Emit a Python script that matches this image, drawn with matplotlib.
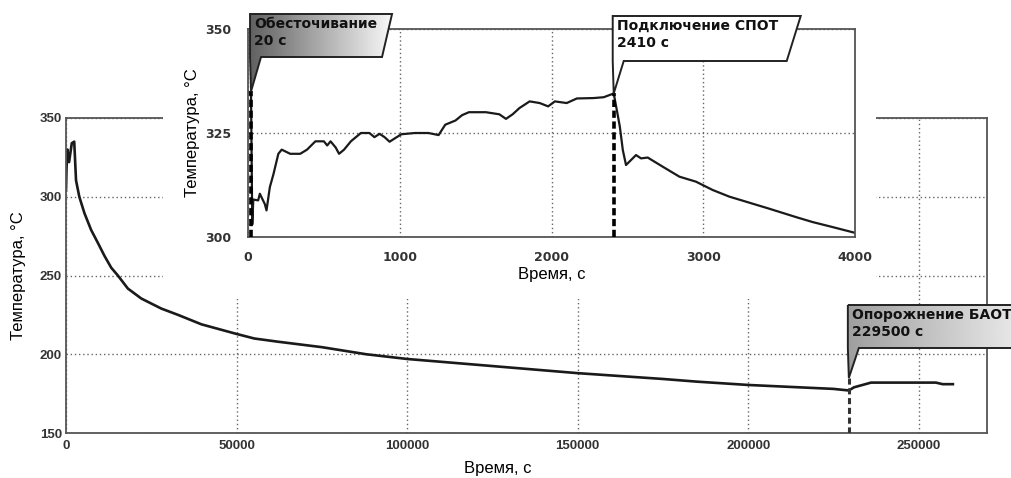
# -*- coding: utf-8 -*-
'''
Температура после обесточивания: общий вид и начальный участок
'''
import numpy as np
import matplotlib
matplotlib.use('Agg')
import matplotlib.pyplot as plt
from matplotlib.patches import Polygon, Rectangle

plt.rcParams['font.family'] = ['Liberation Sans', 'DejaVu Sans']

# ---- данные: весь процесс ----
main_t = [0, 150, 400, 900, 1700, 2410, 2940, 3900, 5400, 7350, 9300, 11270,
          13240, 15200, 18140, 22060, 27940, 32840, 39700, 50000, 55200, 62000,
          75000, 88000, 100000, 125000, 150000, 175000, 185000, 200000, 215000,
          225000, 229500, 231000, 236000, 245000, 255000, 257000, 260000]
main_T = [304, 318, 330, 322, 334, 335, 310.4, 300, 289.6, 279, 270.9, 262.5,
          255, 250, 241.7, 235.4, 229, 225, 219, 212.9, 210, 208,
          204.5, 200, 197, 192.5, 188, 184.3, 182.6, 180.5, 179,
          178, 177, 179, 182, 182, 182, 181, 181]

# ---- данные: первые 4000 с ----
inset_t = [0, 20, 28, 35, 67, 78, 111, 122, 144, 167, 200, 222, 278, 344, 389,
           444, 500, 522, 544, 578, 600, 633, 678, 744, 800, 833, 867, 900, 933,
           967, 1011, 1100, 1189, 1256, 1300, 1367, 1411, 1456, 1567, 1656, 1700,
           1744, 1789, 1856, 1922, 1978, 2022, 2100, 2167, 2278, 2344, 2410, 2430,
           2450, 2470, 2491, 2524, 2557, 2590, 2634, 2733, 2843, 2952, 3062, 3172,
           3281, 3435, 3610, 3720, 3851, 4000]
inset_T = [335, 334, 303, 309, 308.8, 310.4, 307.9, 306.4, 312, 315, 320, 321, 320,
           320, 321, 323, 323, 322, 323, 321.5, 320, 321, 323, 325, 325, 324, 324.8,
           324, 322.9, 323.7, 324.7, 325, 325, 324.5, 327, 328, 329.3, 330, 330,
           329.5, 328.4, 329.5, 331, 332.6, 332.2, 331.4, 332.6, 332.2, 333.3, 333.4,
           333.6, 334.5, 330.6, 326.6, 320.9, 317.3, 318.5, 319.7, 318.9, 319.1, 316.9,
           314.5, 313.3, 311.3, 309.7, 308.5, 306.8, 304.8, 303.6, 302.4, 301]

main_xticks = [0, 50000, 100000, 150000, 200000, 250000]
main_yticks = [150, 200, 250, 300, 350]
inset_xticks = [0, 1000, 2000, 3000, 4000]
inset_yticks = [300, 325, 350]

# события: время, температура у вершины выноски, подпись
ev_texts = ['Обесточивание\n20 с', 'Подключение СПОТ\n2410 с', 'Опорожнение БАОТ\n229500 с']
ev_t = [20, 2410, 229500]
ev_T = [335, 334.5, 185]

W, H = 1011, 478
fig = plt.figure(figsize=(W / 100, H / 100), dpi=100)
fig.patch.set_facecolor('white')

grid_kw = dict(color='#666666', linestyle=(0, (1, 2)), linewidth=1.0)
spine_col = '#555555'


def style_axes(ax):
    for s in ax.spines.values():
        s.set_color(spine_col)
        s.set_linewidth(1.3)
    ax.tick_params(length=0)
    ax.grid(True, **grid_kw)
    ax.set_axisbelow(True)


# основной график
ax = fig.add_axes([66 / W, 1 - 433 / H, (987 - 66) / W, (433 - 118) / H], zorder=0)
ax.plot(main_t, main_T, color='#1a1a1a', linewidth=1.9)
ax.set_xlim(0, 270000)
ax.set_ylim(150, 350)
ax.set_xticks(main_xticks)
ax.set_yticks(main_yticks)
style_axes(ax)
ax.tick_params(axis='x', pad=5)
ax.tick_params(axis='y', pad=3)
for lab in ax.get_xticklabels() + ax.get_yticklabels():
    lab.set_fontsize(9.5)
    lab.set_fontweight('bold')
    lab.set_color('#333333')
ax.set_xlabel('Время, с', fontsize=12)
ax.xaxis.set_label_coords(0.469, -0.09)
ax.set_ylabel('Температура, °C', fontsize=12)
ax.yaxis.set_label_coords(-0.043, 0.5)

# белая подложка под вставкой
fig.patches.append(Rectangle((163 / W, 1 - 299 / H), (876 - 163) / W, 299 / H,
                             transform=fig.transFigure, facecolor='white',
                             edgecolor='none', zorder=1))

# вставка
axi = fig.add_axes([248 / W, 1 - 237 / H, (855 - 248) / W, (237 - 29) / H], zorder=2)
axi.plot(inset_t, inset_T, color='#1a1a1a', linewidth=1.6)
axi.set_xlim(0, 4000)
axi.set_ylim(300, 350)
axi.set_xticks(inset_xticks)
axi.set_yticks(inset_yticks)
style_axes(axi)
axi.tick_params(axis='x', pad=10)
axi.tick_params(axis='y', pad=12)
for lab in axi.get_xticklabels() + axi.get_yticklabels():
    lab.set_fontsize(9)
    lab.set_fontweight('bold')
    lab.set_family('DejaVu Sans')
    lab.set_color('#333333')
axi.set_xlabel('Время, с', fontsize=12, labelpad=2)
axi.set_ylabel('Температура, °C', fontsize=12, labelpad=4)

# пунктирные отметки событий
axi.plot([ev_t[0], ev_t[0]], [300, ev_T[0]], color='black', linewidth=2.6,
         linestyle=(0, (2, 1)), zorder=4)
axi.plot([ev_t[1], ev_t[1]], [300, ev_T[1]], color='black', linewidth=2.6,
         linestyle=(0, (2, 1)), zorder=4)
ax.plot([ev_t[2], ev_t[2]], [150, ev_T[2]], color='#333333', linewidth=2.2,
        linestyle=(0, (2, 1.2)), zorder=4)

# слой для выносок в пикселях
ov = fig.add_axes([0, 0, 1, 1], zorder=5)
ov.set_facecolor('none')
ov.axis('off')


def to_px(a, x, y):
    dx, dy = a.transData.transform((x, y))
    return dx, H - dy


def callout(tip, y0, y1, width, slant, text, c0, c1):
    tx, ty = tip
    x0 = tx - 1
    x1 = x0 + width
    pts = [(x0, y0), (x1, y0), (x1 - slant, y1), (x0 + 11, y1), (tx, ty), (x0, y1)]
    poly = Polygon(pts, closed=True, facecolor='none', edgecolor='#222222',
                   linewidth=1.4, zorder=3)
    ov.add_patch(poly)
    if c0 is None:
        fill = Polygon(pts, closed=True, facecolor='white', edgecolor='none', zorder=1)
        ov.add_patch(fill)
    else:
        grad = np.linspace(c0, c1, 256).reshape(1, -1)
        im = ov.imshow(grad, extent=(x0, x1, ty, y0), cmap='gray', vmin=0, vmax=1,
                       aspect='auto', zorder=1, interpolation='bilinear')
        im.set_clip_path(poly)
    ov.text(x0 + 4, y0 + 3, text, ha='left', va='top', fontsize=10,
            fontweight='bold', family='DejaVu Sans', color='#111111',
            linespacing=1.3, zorder=4)


callout(to_px(axi, ev_t[0], ev_T[0]), 14, 57, 142, 10, ev_texts[0], 0.38, 0.97)
callout(to_px(axi, ev_t[1], ev_T[1]), 16, 61, 188, 14, ev_texts[1], None, None)
callout(to_px(ax, ev_t[2], ev_T[2]), 305, 348, 190, 10, ev_texts[2], 0.62, 0.95)

ov.set_xlim(0, W)
ov.set_ylim(H, 0)

fig.savefig('out.png', dpi=100)
